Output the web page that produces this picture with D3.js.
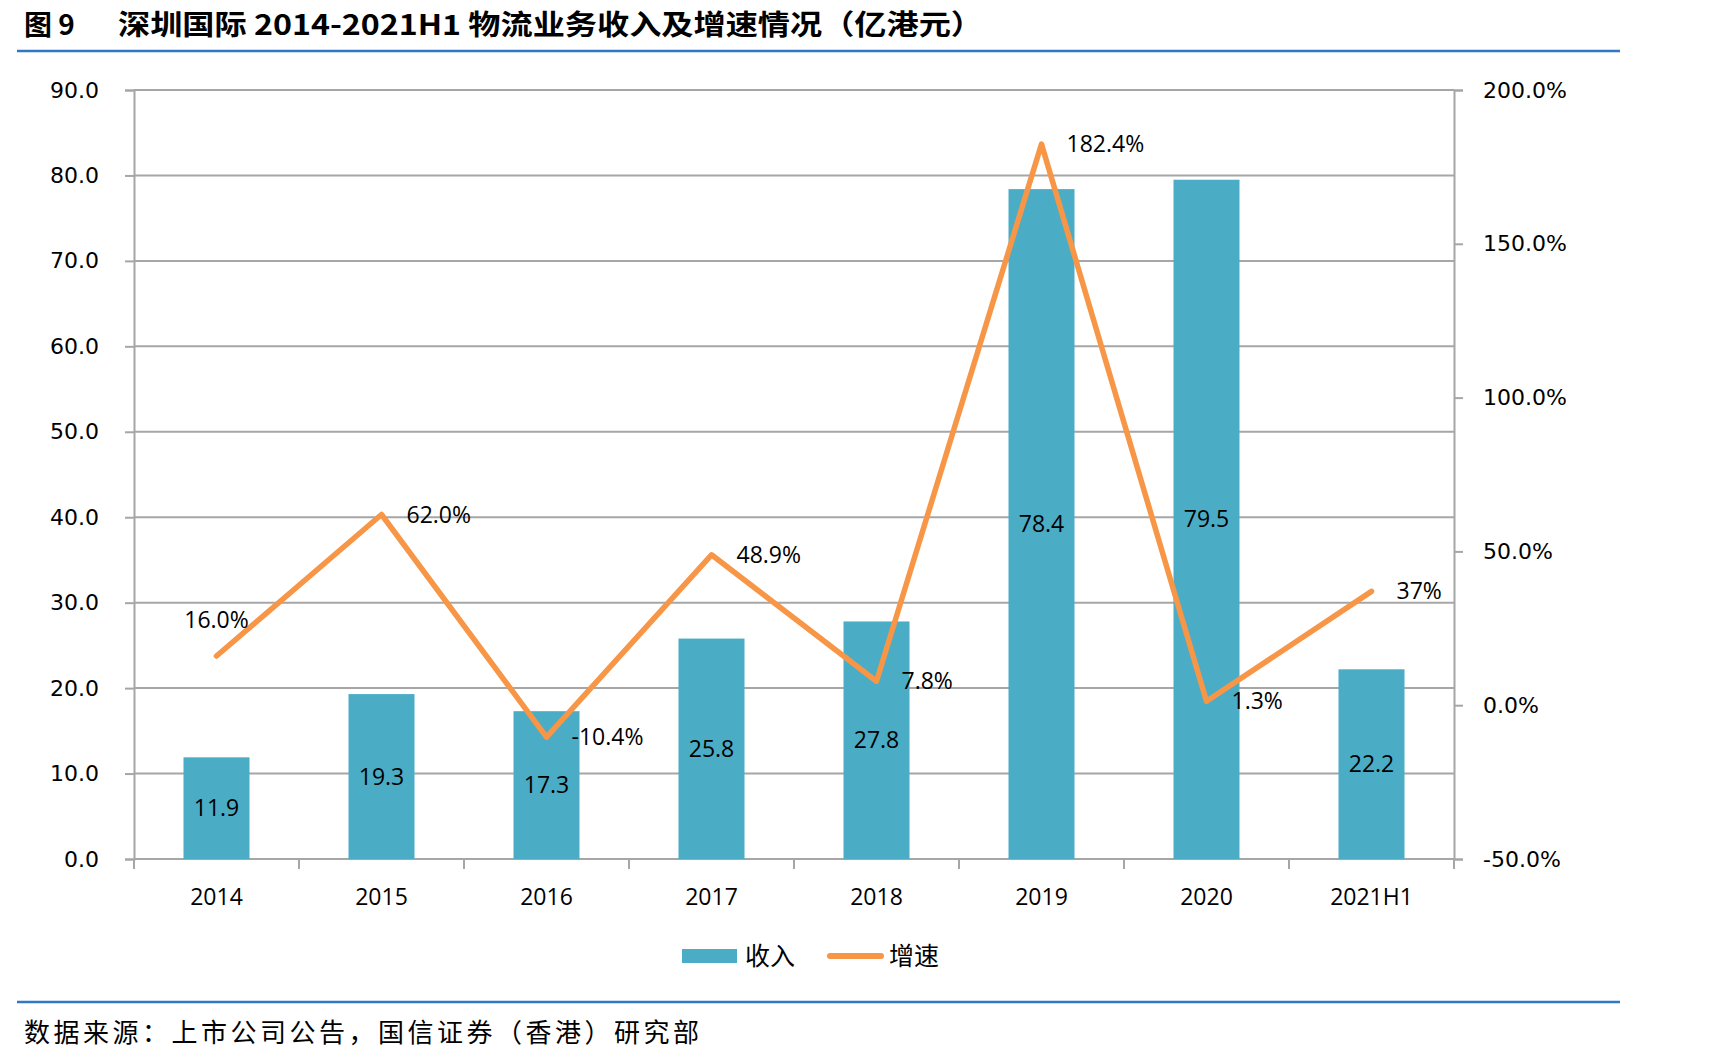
<!DOCTYPE html>
<html>
<head>
<meta charset="utf-8">
<script src="https://cdn.jsdelivr.net/npm/d3@7"></script>
<style>
  body { margin: 0; background: #fff; }
  svg { display: block; }
</style>
</head>
<body>
<div id="chart"></div>
<script>
// data
const categories = ['2014', '2015', '2016', '2017', '2018', '2019', '2020', '2021H1'];
const revenue = [11.9, 19.3, 17.3, 25.8, 27.8, 78.4, 79.5, 22.2];       // 收入（亿港元）
const growth = [16.0, 62.0, -10.4, 48.9, 7.8, 182.4, 1.3, 37];          // 增速 %
const growthLabels = ['16.0%', '62.0%', '-10.4%', '48.9%', '7.8%', '182.4%', '1.3%', '37%'];
const leftTicks = [0, 10, 20, 30, 40, 50, 60, 70, 80, 90];
const rightTicks = [-50, 0, 50, 100, 150, 200];

const width = 1735, height = 1062;
const margin = {top: 90, right: 281, bottom: 203, left: 134};
const innerWidth = width - margin.left - margin.right;
const innerHeight = height - margin.top - margin.bottom;

const barColor = '#4bacc6';
const lineColor = '#f79646';
const gridColor = '#a6a6a6';
const numFont = '"DejaVu Sans", Verdana, sans-serif';
const labelFont = '"Open Sans", Lato, sans-serif';
const cjkFont = '"Noto Sans CJK SC", sans-serif';

const svg = d3.select('#chart').append('svg')
  .attr('width', width)
  .attr('height', height);

// title + rules
svg.append('text')
  .attr('x', 24).attr('y', 35)
  .attr('font-family', cjkFont).attr('font-weight', 700).attr('font-size', 28)
  .text('图 9');
svg.append('text')
  .attr('x', 118).attr('y', 35)
  .attr('font-family', cjkFont).attr('font-weight', 700).attr('font-size', 28)
  .attr('textLength', 865).attr('lengthAdjust', 'spacingAndGlyphs')
  .text('深圳国际 2014-2021H1 物流业务收入及增速情况（亿港元）');
svg.append('line')
  .attr('x1', 17).attr('x2', 1620).attr('y1', 51).attr('y2', 51)
  .attr('stroke', '#2f78c4').attr('stroke-width', 2.5);
svg.append('line')
  .attr('x1', 17).attr('x2', 1620).attr('y1', 1002).attr('y2', 1002)
  .attr('stroke', '#2f78c4').attr('stroke-width', 2.5);
svg.append('text')
  .attr('x', 24).attr('y', 1042)
  .attr('font-family', cjkFont).attr('font-size', 26)
  .attr('textLength', 675).attr('lengthAdjust', 'spacing')
  .text('数据来源：上市公司公告，国信证券（香港）研究部');

const g = svg.append('g')
  .attr('transform', `translate(${margin.left}, ${margin.top})`);

const x = d3.scaleBand()
  .domain(categories)
  .range([0, innerWidth])
  .paddingInner(0.6)
  .paddingOuter(0.3);

const xCenter = d => x(d) + x.bandwidth() / 2;
const step = innerWidth / categories.length;

const y = d3.scaleLinear().domain([0, 90]).range([innerHeight, 0]);
const y2 = d3.scaleLinear().domain([-50, 200]).range([innerHeight, 0]);

// gridlines
g.append('g')
  .selectAll('line')
  .data(leftTicks.slice(1))
  .join('line')
  .attr('x1', 0).attr('x2', innerWidth)
  .attr('y1', d => y(d)).attr('y2', d => y(d))
  .attr('stroke', gridColor).attr('stroke-width', 2);

// left axis
const gY = g.append('g')
  .call(d3.axisLeft(y).tickValues(leftTicks).tickFormat(d => d.toFixed(1)).tickSize(9).tickPadding(26));
gY.selectAll('line, path').attr('stroke', gridColor).attr('stroke-width', 2);
gY.selectAll('text').attr('font-family', numFont).attr('font-size', 22).attr('fill', '#000');

// right axis (hyphen minus, like the original)
const gY2 = g.append('g')
  .attr('transform', `translate(${innerWidth},0)`)
  .call(d3.axisRight(y2).tickValues(rightTicks).tickFormat(d => d.toFixed(1) + '%').tickSize(9).tickPadding(20));
gY2.selectAll('line, path').attr('stroke', gridColor).attr('stroke-width', 2);
gY2.selectAll('text').attr('font-family', numFont).attr('font-size', 22).attr('fill', '#000');

// x axis, ticks on category boundaries
const gX = g.append('g').attr('transform', `translate(0,${innerHeight})`);
gX.append('line')
  .attr('x1', 0).attr('x2', innerWidth)
  .attr('stroke', gridColor).attr('stroke-width', 2);
gX.selectAll('line.tick')
  .data(d3.range(categories.length + 1))
  .join('line')
  .attr('class', 'tick')
  .attr('x1', i => i * step).attr('x2', i => i * step)
  .attr('y1', 0).attr('y2', 10)
  .attr('stroke', gridColor).attr('stroke-width', 2);
gX.selectAll('text')
  .data(categories)
  .join('text')
  .attr('x', d => xCenter(d))
  .attr('y', 46)
  .attr('text-anchor', 'middle')
  .attr('font-family', labelFont).attr('font-size', 23)
  .text(d => d);

// bars
g.append('g')
  .selectAll('rect')
  .data(categories)
  .join('rect')
  .attr('x', d => x(d))
  .attr('width', x.bandwidth())
  .attr('y', (d, i) => y(revenue[i]))
  .attr('height', (d, i) => innerHeight - y(revenue[i]))
  .attr('fill', barColor);

g.append('g')
  .selectAll('text')
  .data(categories)
  .join('text')
  .attr('x', d => xCenter(d))
  .attr('y', (d, i) => (y(revenue[i]) + innerHeight) / 2)
  .attr('dy', '0.35em')
  .attr('text-anchor', 'middle')
  .attr('font-family', labelFont).attr('font-size', 23)
  .text((d, i) => revenue[i].toFixed(1));

// growth line
const line = d3.line()
  .x((d, i) => xCenter(categories[i]))
  .y(d => y2(d));

g.append('path')
  .datum(growth)
  .attr('d', line)
  .attr('fill', 'none')
  .attr('stroke', lineColor)
  .attr('stroke-width', 5.5)
  .attr('stroke-linejoin', 'round')
  .attr('stroke-linecap', 'round');

g.append('g')
  .selectAll('text')
  .data(categories)
  .join('text')
  .attr('x', (d, i) => i === 0 ? xCenter(d) : xCenter(d) + 25)
  .attr('y', (d, i) => i === 0 ? y2(growth[i]) - 36 : y2(growth[i]))
  .attr('dy', '0.35em')
  .attr('text-anchor', (d, i) => i === 0 ? 'middle' : 'start')
  .attr('font-family', labelFont).attr('font-size', 23)
  .text((d, i) => growthLabels[i]);

// legend
const legend = svg.append('g').attr('transform', 'translate(682, 956)');
legend.append('rect')
  .attr('x', 0).attr('y', -7).attr('width', 55).attr('height', 14)
  .attr('fill', barColor);
legend.append('text')
  .attr('x', 63).attr('y', 0).attr('dy', '0.35em')
  .attr('font-family', cjkFont).attr('font-size', 25)
  .text('收入');
legend.append('line')
  .attr('x1', 148).attr('x2', 199).attr('y1', 0).attr('y2', 0)
  .attr('stroke', lineColor).attr('stroke-width', 6).attr('stroke-linecap', 'round');
legend.append('text')
  .attr('x', 207).attr('y', 0).attr('dy', '0.35em')
  .attr('font-family', cjkFont).attr('font-size', 25)
  .text('增速');
</script>
</body>
</html>
